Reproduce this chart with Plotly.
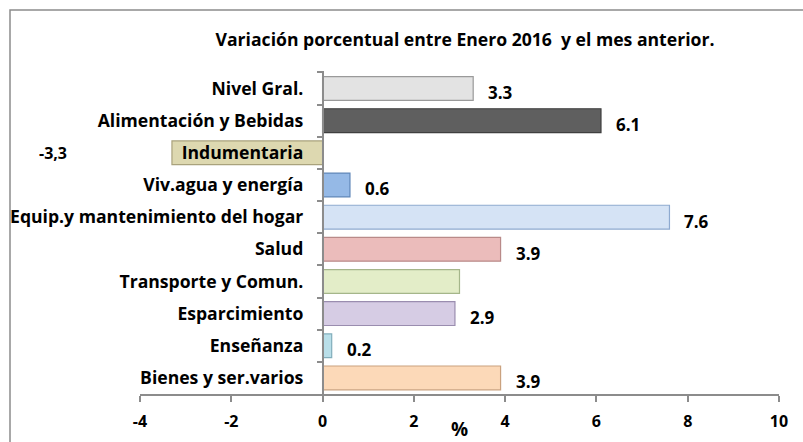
import plotly.graph_objects as go

categories = ["Nivel Gral.", "Alimentación y Bebidas", "Indumentaria", "Viv.agua y energía",
              "Equip.y mantenimiento del hogar", "Salud", "Transporte y Comun.",
              "Esparcimiento", "Enseñanza", "Bienes y ser.varios"]
values = [3.3, 6.1, -3.3, 0.6, 7.6, 3.9, 3.0, 2.9, 0.2, 3.9]
value_labels = ["3.3", "6.1", "", "0.6", "7.6", "3.9", "", "2.9", "0.2", "3.9"]
outside_label = "-3,3"
outside_label_category = "Indumentaria"
fill_colors = ["#e3e3e3", "#5f5f5f", "#ddd8b0", "#95b9e6", "#d5e3f5", "#ebbcbb",
               "#e3edc8", "#d6cce4", "#b9dfe9", "#fcd9b8"]
line_colors = ["#9a9a9a", "#3f3f3f", "#a9a27c", "#5f86b8", "#8eaad0", "#b98a89",
               "#a5b68a", "#9a8daf", "#82aebb", "#caa27f"]
x_ticks = [-4, -2, 0, 2, 4, 6, 8, 10]
x_tick_text = ["-4", "-2", "0", "2", "4", "6", "8", "10"]
title_text = "Variación porcentual entre Enero 2016  y el mes anterior."
x_title = "%"

FONT = "Open Sans"
W, H = 803, 442
L, R, T, B = 140, 24, 71, 48
pw = W - L - R
xmin, xmax = -4, 10
zero_pos = (0 - xmin) / (xmax - xmin)

fig = go.Figure()
fig.add_trace(go.Bar(
    x=values, y=categories, orientation="h",
    marker=dict(color=fill_colors, line=dict(color=line_colors, width=1.2)),
    width=0.74, hoverinfo="skip",
))

annotations = []
for c, v, t in zip(categories, values, value_labels):
    if t:
        annotations.append(dict(x=v, y=c, xref="x", yref="y", text="<b>" + t + "</b>",
                                showarrow=False, xanchor="left", yanchor="middle",
                                xshift=13, yshift=-4,
                                font=dict(family=FONT, size=17, color="#000000")))
annotations.append(dict(x=(37 - L) / pw, y=outside_label_category, xref="paper", yref="y",
                        text="<b>" + outside_label + "</b>", showarrow=False,
                        xanchor="left", yanchor="middle",
                        font=dict(family=FONT, size=16, color="#000000")))

fig.update_layout(
    width=W, height=H,
    margin=dict(l=L, r=R, t=T, b=B, autoexpand=False),
    paper_bgcolor="white", plot_bgcolor="white",
    showlegend=False,
    font=dict(family=FONT, color="#000000"),
    title=dict(text="<b>" + title_text + "</b>", x=(465 - L) / pw, xref="paper",
               xanchor="center", y=1 - 40 / H, yref="container", yanchor="middle",
               font=dict(family=FONT, size=17.6, color="#000000")),
    xaxis=dict(range=[xmin, xmax], tickvals=x_ticks, ticktext=x_tick_text,
               showgrid=False, zeroline=False, automargin=False,
               showline=True, linecolor="#8c8c8c", linewidth=1.5,
               ticks="outside", ticklen=6, tickcolor="#8c8c8c", tickwidth=1.5,
               ticklabelstandoff=6,
               tickfont=dict(family=FONT, size=16, color="#000000", weight="bold"),
               title=dict(text="<b>" + x_title + "</b>", standoff=3,
                          font=dict(family=FONT, size=19, color="#000000")),
               fixedrange=True),
    yaxis=dict(type="category", autorange="reversed", anchor="free", position=zero_pos,
               showgrid=False, zeroline=False, automargin=False,
               showline=True, linecolor="#8c8c8c",
               linewidth=1.5, ticks="outside", ticklen=5, tickcolor="#8c8c8c",
               tickwidth=1.5, tickson="boundaries", ticklabelstandoff=15,
               tickfont=dict(family=FONT, size=17.6, color="#000000", weight="bold"),
               fixedrange=True),
    bargap=0.26,
    annotations=annotations,
    shapes=[dict(type="rect", xref="paper", yref="paper",
                 x0=(10 - L) / pw, x1=2.0,
                 y0=-1.0, y1=(H - B - 10) / (H - T - B),
                 line=dict(color="#8c8c8c", width=1.5), fillcolor="rgba(0,0,0,0)",
                 layer="below")],
)

fig.write_html("out.html", config={"displayModeBar": False},
               post_script="document.body.style.margin='0';")
